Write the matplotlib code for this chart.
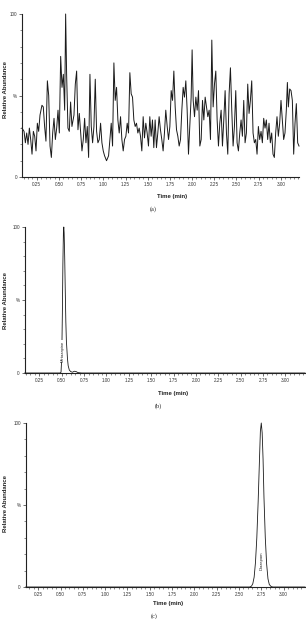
import matplotlib
matplotlib.use("Agg")
import matplotlib.pyplot as plt
from matplotlib.ticker import MultipleLocator, FixedLocator, FixedFormatter

plt.rcParams['font.family'] = ['Liberation Sans', 'DejaVu Sans']

# (a) blank / noise trace
t_a = [0.083, 0.106, 0.121, 0.136, 0.151, 0.166, 0.181, 0.196, 0.211, 0.226,
       0.241, 0.256, 0.271, 0.286, 0.308, 0.323, 0.338, 0.353, 0.369, 0.384,
       0.399, 0.414, 0.429, 0.444, 0.459, 0.474, 0.489, 0.504, 0.519, 0.534,
       0.549, 0.564, 0.575, 0.586, 0.601, 0.616, 0.631, 0.646, 0.669, 0.684,
       0.699, 0.714, 0.729, 0.744, 0.759, 0.774, 0.789, 0.804, 0.819, 0.834,
       0.849, 0.864, 0.879, 0.894, 0.909, 0.924, 0.939, 0.954, 0.969, 0.984,
       0.999, 1.014, 1.036, 1.059, 1.074, 1.089, 1.104, 1.119, 1.134, 1.149,
       1.164, 1.179, 1.194, 1.209, 1.224, 1.239, 1.254, 1.269, 1.284, 1.299,
       1.314, 1.329, 1.344, 1.359, 1.374, 1.389, 1.404, 1.419, 1.434, 1.449,
       1.464, 1.479, 1.494, 1.509, 1.524, 1.539, 1.554, 1.569, 1.584, 1.599,
       1.614, 1.629, 1.644, 1.659, 1.674, 1.689, 1.704, 1.720, 1.735, 1.750,
       1.765, 1.780, 1.795, 1.810, 1.825, 1.840, 1.855, 1.870, 1.885, 1.900,
       1.915, 1.930, 1.945, 1.960, 1.975, 1.990, 2.001, 2.013, 2.028, 2.043,
       2.058, 2.073, 2.088, 2.103, 2.118, 2.133, 2.148, 2.163, 2.178, 2.193,
       2.208, 2.223, 2.238, 2.253, 2.268, 2.283, 2.298, 2.313, 2.328, 2.343,
       2.358, 2.373, 2.388, 2.403, 2.418, 2.433, 2.448, 2.463, 2.478, 2.493,
       2.508, 2.523, 2.538, 2.553, 2.568, 2.583, 2.598, 2.613, 2.628, 2.643,
       2.658, 2.673, 2.688, 2.703, 2.718, 2.733, 2.748, 2.763, 2.778, 2.793,
       2.808, 2.823, 2.838, 2.853, 2.868, 2.883, 2.898, 2.913, 2.928, 2.943,
       2.958, 2.973, 2.988, 3.003, 3.018, 3.033, 3.048, 3.063, 3.075, 3.086,
       3.101, 3.116, 3.131, 3.146, 3.161, 3.176, 3.191, 3.206]
y_a = [30, 28, 21, 27, 20, 30, 23, 14, 28, 25,
       16, 33, 28, 38, 44, 43, 31, 22, 59, 50,
       19, 12, 27, 36, 23, 30, 41, 27, 74, 55,
       63, 41, 100, 63, 30, 28, 46, 31, 38, 57,
       65, 29, 39, 27, 16, 23, 36, 21, 31, 12,
       63, 31, 21, 31, 60, 28, 21, 23, 33, 21,
       16, 13, 10, 13, 23, 33, 19, 70, 47, 55,
       35, 27, 37, 23, 16, 23, 25, 33, 27, 64,
       51, 49, 35, 31, 33, 27, 30, 25, 16, 37,
       24, 33, 27, 19, 37, 25, 35, 18, 35, 18,
       27, 37, 29, 23, 16, 27, 41, 31, 23, 31,
       53, 47, 65, 43, 29, 25, 19, 23, 41, 55,
       49, 59, 41, 14, 31, 49, 78, 47, 37, 49,
       41, 53, 19, 23, 47, 35, 49, 43, 37, 41,
       23, 84, 43, 57, 65, 35, 19, 33, 41, 19,
       35, 53, 27, 14, 51, 67, 41, 19, 31, 53,
       21, 16, 27, 35, 25, 47, 21, 27, 57, 39,
       47, 59, 27, 21, 23, 14, 31, 23, 28, 21,
       36, 30, 35, 23, 33, 21, 27, 14, 12, 27,
       37, 25, 33, 47, 35, 23, 27, 41, 58, 43,
       54, 53, 47, 14, 33, 45, 21, 19]

# (b) mirtazapine
t_b = [0.086, 0.480, 0.492, 0.500, 0.507, 0.513, 0.519, 0.523, 0.527, 0.533,
       0.540, 0.546, 0.552, 0.558, 0.564, 0.572, 0.585, 0.600, 0.620, 0.640,
       0.660, 0.680, 0.720, 3.220]
y_b = [0, 0, 0.5, 10, 40, 75, 97, 100, 96, 80,
       55, 35, 22, 16, 10, 5, 2, 1, 0.5, 1.2,
       1, 0.3, 0, 0]

# (c) diazepam
t_c = [0.110, 2.620, 2.640, 2.655, 2.670, 2.685, 2.700, 2.715, 2.730, 2.740,
       2.750, 2.760, 2.770, 2.780, 2.795, 2.810, 2.825, 2.840, 2.860, 2.880,
       3.240]
y_c = [0, 0, 0.5, 2, 6, 15, 30, 52, 78, 95,
       100, 94, 78, 55, 30, 14, 5, 1.5, 0.3, 0,
       0]

x_ticks = [0.25, 0.50, 0.75, 1.00, 1.25, 1.50, 1.75, 2.00, 2.25, 2.50, 2.75, 3.00]
x_ticklabels = ['0.25', '0.50', '0.75', '1.00', '1.25', '1.50', '1.75', '2.00',
                '2.25', '2.50', '2.75', '3.00']

W, H = 306, 619
fig = plt.figure(figsize=(W / 100, H / 100), dpi=100)


def px_axes(x0, y0, x1, y1):
    return fig.add_axes([x0 / W, 1 - y1 / H, (x1 - x0) / W, (y1 - y0) / H])


def style(ax, xlim):
    ax.set_xlim(*xlim)
    ax.set_ylim(0, 100)
    for s in ['top', 'right']:
        ax.spines[s].set_visible(False)
    for s in ['left', 'bottom']:
        ax.spines[s].set_linewidth(0.8)
        ax.spines[s].set_color('#222222')
    ax.xaxis.set_major_locator(FixedLocator(x_ticks))
    ax.xaxis.set_major_formatter(FixedFormatter(x_ticklabels))
    ax.xaxis.set_minor_locator(MultipleLocator(0.05))
    ax.yaxis.set_major_locator(FixedLocator([0, 50, 100]))
    ax.yaxis.set_major_formatter(FixedFormatter(['0', '%', '100']))
    ax.yaxis.set_minor_locator(MultipleLocator(10))
    ax.tick_params(which='major', direction='out', length=2.0, width=0.5,
                   labelsize=3.3, pad=1.5, colors='#333333')
    ax.tick_params(which='minor', direction='out', length=1.2, width=0.4,
                   colors='#333333')


def labels(xc, yx, yy, cap_x, cap_y, cap):
    fig.text(xc / W, 1 - yx / H, 'Time (min)', ha='center', va='center',
             fontsize=4.3, fontweight='bold', color='#222222')
    fig.text(6 / W, 1 - yy / H, 'Relative Abundance', ha='center', va='center',
             rotation=90, fontsize=4.3, fontweight='bold', color='#222222')
    fig.text(cap_x / W, 1 - cap_y / H, cap, ha='center', va='center',
             fontsize=4.5, family='Liberation Serif', color='#222222')


# panel (a)
ax1 = px_axes(22, 14, 299, 177)
style(ax1, (0.083, 3.206))
ax1.plot(t_a, y_a, color='#1a1a1a', lw=0.7, clip_on=False)
labels(172, 197, 90, 153, 209, '(a)')

# panel (b)
ax2 = px_axes(24.7, 227, 305, 373)
style(ax2, (0.086, 3.22))
ax2.plot(t_b, y_b, color='#1a1a1a', lw=0.6, clip_on=False)
ax2.text(0.512, 15, 'Mirtazapine', rotation=90, ha='center', va='center',
         fontsize=3.0, color='#222222',
         bbox=dict(boxstyle='square,pad=0.1', facecolor='white', edgecolor='none'))
labels(173, 393, 300, 158, 406, '(b)')

# panel (c)
ax3 = px_axes(25.7, 423, 305, 587)
style(ax3, (0.11, 3.24))
ax3.plot(t_c, y_c, color='#1a1a1a', lw=0.6, clip_on=False)
ax3.text(2.75, 16, 'Diazepam', rotation=90, ha='center', va='center',
         fontsize=3.0, color='#222222',
         bbox=dict(boxstyle='square,pad=0.1', facecolor='white', edgecolor='none'))
labels(168, 603, 503, 154, 616, '(c)')

fig.savefig('out.png', dpi=100, facecolor='white')
